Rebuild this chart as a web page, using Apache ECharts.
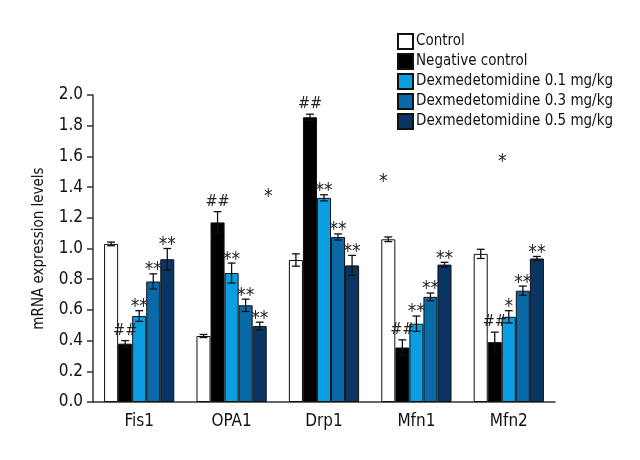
<!DOCTYPE html>
<html>
<head>
<meta charset="utf-8">
<script src="https://cdn.jsdelivr.net/npm/echarts@6/dist/echarts.min.js"></script>
<style>html,body{margin:0;padding:0;background:#fff}#c{width:640px;height:460px}</style>
</head>
<body>
<div id="c"></div>
<script>
const categories = ['Fis1', 'OPA1', 'Drp1', 'Mfn1', 'Mfn2'];
const seriesNames = ['Control', 'Negative control', 'Dexmedetomidine 0.1 mg/kg', 'Dexmedetomidine 0.3 mg/kg', 'Dexmedetomidine 0.5 mg/kg'];
const control = [1.03, 0.43, 0.925, 1.06, 0.965];
const controlErr = [0.012, 0.01, 0.04, 0.015, 0.03];
const negative = [0.38, 1.17, 1.855, 0.355, 0.39];
const negativeErr = [0.02, 0.07, 0.02, 0.05, 0.065];
const dex01 = [0.56, 0.84, 1.33, 0.51, 0.555];
const dex01Err = [0.035, 0.065, 0.02, 0.05, 0.04];
const dex03 = [0.785, 0.63, 1.075, 0.685, 0.725];
const dex03Err = [0.05, 0.04, 0.02, 0.025, 0.03];
const dex05 = [0.93, 0.495, 0.89, 0.895, 0.935];
const dex05Err = [0.07, 0.025, 0.065, 0.015, 0.013];
const controlMarks = ['', '', '', '', ''];
const negativeMarks = ['##', '##', '##', '##', '##'];
const dex01Marks = ['**', '**', '**', '**', '*'];
const dex03Marks = ['**', '**', '**', '**', '**'];
const dex05Marks = ['**', '**', '**', '**', '**'];
const yTicks = ['0.0','0.2','0.4','0.6','0.8','1.0','1.2','1.4','1.6','1.8','2.0'];

const values = [control, negative, dex01, dex03, dex05];
const errs = [controlErr, negativeErr, dex01Err, dex03Err, dex05Err];
const marks = [controlMarks, negativeMarks, dex01Marks, dex03Marks, dex05Marks];
const colors = ['#ffffff', '#000000', '#0b9fe2', '#0a6aa8', '#0a3563'];
const FONT = "'Liberation Sans Narrow', 'DejaVu Sans Condensed', 'Roboto Condensed', sans-serif";
const CAT_GAP = 0.24;

const barSeries = seriesNames.map((n, i) => ({
  name: n,
  type: 'bar',
  data: values[i],
  barGap: '0%',
  barCategoryGap: (CAT_GAP * 100) + '%',
  itemStyle: { color: colors[i], borderColor: '#111', borderWidth: 1 },
  z: 2
}));

const errData = [];
values.forEach((arr, s) => arr.forEach((v, c) => errData.push([c, s, v, errs[s][c], marks[s][c]])));

const errSeries = {
  type: 'custom',
  data: errData,
  z: 5,
  renderItem: function (params, api) {
    const c = api.value(0), s = api.value(1), v = api.value(2), e = api.value(3);
    const lab = errData[params.dataIndex][4];
    const band = api.size([1, 0])[0];
    const bw = band * (1 - CAT_GAP) / 5;
    const base = api.coord([c, v]);
    const x = base[0] + (s - 2) * bw;
    const yt = api.coord([c, v + e])[1];
    const yb = api.coord([c, v - e])[1];
    const cap = bw * 0.28;
    const st = { stroke: '#111', lineWidth: 1.3 };
    const children = [
      { type: 'line', shape: { x1: x, y1: yt, x2: x, y2: yb }, style: st },
      { type: 'line', shape: { x1: x - cap, y1: yt, x2: x + cap, y2: yt }, style: st },
      { type: 'line', shape: { x1: x - cap, y1: yb, x2: x + cap, y2: yb }, style: st }
    ];
    if (lab) {
      const isStar = lab.indexOf('*') >= 0;
      children.push({
        type: 'text',
        style: {
          text: lab, x: x, y: yt + (isStar ? 6 : -2),
          align: 'center', verticalAlign: 'bottom',
          font: (isStar ? '19px ' : '16px ') + FONT, fill: '#222'
        }
      });
    }
    return { type: 'group', children: children };
  }
};

const chart = echarts.init(document.getElementById('c'), null, { renderer: 'canvas' });
chart.setOption({
  animation: false,
  backgroundColor: '#fff',
  grid: { left: 93, right: 85, top: 95, bottom: 58 },
  legend: {
    data: seriesNames,
    orient: 'vertical',
    left: 392, top: 28,
    itemWidth: 15, itemHeight: 15, itemGap: 3,
    icon: 'rect',
    textStyle: { fontFamily: FONT, fontSize: 15, lineHeight: 15, color: '#111', padding: [0, 0, 0, -2] }
  },
  xAxis: {
    type: 'category',
    data: categories,
    axisLine: { lineStyle: { color: '#333', width: 1.5 } },
    axisTick: { length: 8, lineStyle: { color: '#333', width: 1.5 } },
    axisLabel: { fontFamily: FONT, fontSize: 17, color: '#111', margin: 11 }
  },
  yAxis: {
    type: 'value',
    min: 0, max: 2, interval: 0.2,
    name: 'mRNA expression levels',
    nameLocation: 'middle',
    nameGap: 46,
    nameTextStyle: { fontFamily: FONT, fontSize: 15, color: '#111' },
    axisLine: { show: true, lineStyle: { color: '#333', width: 1.5 } },
    axisTick: { show: true, length: 6, lineStyle: { color: '#333', width: 1.5 } },
    splitLine: { show: false },
    axisLabel: {
      fontFamily: FONT, fontSize: 17, color: '#111', margin: 10,
      formatter: function (v) { return yTicks[Math.round(v / 0.2)]; }
    }
  },
  graphic: [
    { type: 'text', left: 264, top: 188, style: { text: '*', font: '19px ' + FONT, fill: '#222' } },
    { type: 'text', left: 379, top: 173, style: { text: '*', font: '19px ' + FONT, fill: '#222' } },
    { type: 'text', left: 498, top: 153, style: { text: '*', font: '19px ' + FONT, fill: '#222' } }
  ],
  series: barSeries.concat([errSeries])
});
</script>
</body>
</html>
